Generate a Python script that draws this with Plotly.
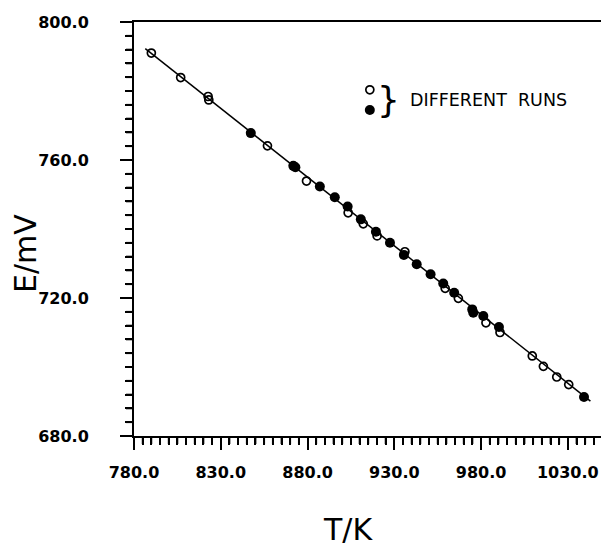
import plotly.graph_objects as go

# Open-circle run
open_T = [790.0, 806.9, 822.7, 823.1, 856.9, 879.4, 903.4, 912.1, 920.1, 936.1,
          959.3, 966.9, 982.8, 990.9, 1009.5, 1015.9, 1023.6, 1030.5]
open_E = [791.0, 783.9, 778.4, 777.4, 764.1, 753.9, 744.7, 741.5, 738.0, 733.4,
          722.8, 719.9, 712.8, 710.0, 703.2, 700.2, 697.1, 694.9]

# Filled-circle run
fill_T = [847.3, 871.8, 873.0, 887.1, 895.7, 903.1, 910.7, 919.4, 927.5, 935.5,
          942.9, 950.9, 958.2, 964.5, 974.9, 975.5, 981.3, 990.3, 1039.3]
fill_E = [767.8, 758.3, 757.9, 752.3, 749.2, 746.5, 742.8, 739.2, 736.0, 732.5,
          729.8, 726.9, 724.2, 721.5, 716.7, 715.7, 714.8, 711.6, 691.3]

# Fitted straight line (end points)
line_T = [786.5, 1043.0]
line_E = [792.3, 690.1]

x_ticks = [780, 830, 880, 930, 980, 1030]
y_ticks = [680, 720, 760, 800]
x_minor = [v for v in range(780, 1050, 5) if v not in x_ticks]
y_minor = [v for v in range(680, 801, 4) if v not in y_ticks]

legend_T = [915.9, 915.9]
legend_E = [780.35, 774.5]
legend_text = "DIFFERENT  RUNS"

W, H = 601, 546
L, T, B = 134, 22, 110
R = 0
X_RANGE = [780, 1049.1]
Y_RANGE = [680, 800]

fig = go.Figure()
fig.add_trace(go.Scatter(x=line_T, y=line_E, mode="lines",
                         line=dict(color="black", width=1.5), hoverinfo="skip"))
fig.add_trace(go.Scatter(x=open_T, y=open_E, mode="markers",
                         marker=dict(symbol="circle-open", size=8, color="black",
                                     line=dict(color="black", width=1.7))))
fig.add_trace(go.Scatter(x=fill_T, y=fill_E, mode="markers",
                         marker=dict(symbol="circle", size=10, color="black")))
# legend symbols
fig.add_trace(go.Scatter(x=legend_T[:1], y=legend_E[:1], mode="markers",
                         marker=dict(symbol="circle-open", size=8, color="black",
                                     line=dict(color="black", width=1.7))))
fig.add_trace(go.Scatter(x=legend_T[1:], y=legend_E[1:], mode="markers",
                         marker=dict(symbol="circle", size=10, color="black")))

tickfont = dict(family="DejaVu Sans", size=16, color="black", weight="bold")

fig.update_layout(
    xaxis=dict(
        range=X_RANGE, tickmode="array", tickvals=x_ticks,
        ticktext=[f"{v:.1f}" for v in x_ticks],
        showgrid=False, zeroline=False, showline=True, linecolor="black", linewidth=2,
        mirror=True, ticks="outside", ticklen=12, tickwidth=2, tickcolor="black",
        tickfont=tickfont, ticklabelstandoff=9,
        minor=dict(tickmode="array", tickvals=x_minor, ticks="outside", ticklen=7,
                   tickwidth=1.8, tickcolor="black", showgrid=False),
    ),
    yaxis=dict(
        range=Y_RANGE, tickmode="array", tickvals=y_ticks,
        ticktext=[f"{v:.1f}" for v in y_ticks],
        showgrid=False, zeroline=False, showline=True, linecolor="black", linewidth=2,
        mirror=False, ticks="outside", ticklen=12, tickwidth=2, tickcolor="black",
        tickfont=tickfont, ticklabelstandoff=28,
        minor=dict(tickmode="array", tickvals=y_minor, ticks="outside", ticklen=7,
                   tickwidth=1.8, tickcolor="black", showgrid=False),
    ),
)

# minor ticks also drawn as short pixel-length lines anchored on the axes
for v in x_minor:
    fig.add_shape(type="line", xref="x", yref="paper", ysizemode="pixel", yanchor=0,
                  x0=v, x1=v, y0=-1, y1=-8, line=dict(color="black", width=1.8),
                  layer="above")
for v in y_minor:
    fig.add_shape(type="line", xref="paper", yref="y", xsizemode="pixel", xanchor=0,
                  x0=-1, x1=-8, y0=v, y1=v, line=dict(color="black", width=1.8),
                  layer="above")

pw = W - L - R
ph = H - T - B

def px_to_paper(x, y):
    return (x - L) / pw, (H - B - y) / ph

ax, ay = px_to_paper(348, 529)
ex, ey = px_to_paper(25, 254)
bx, by = px_to_paper(388, 100)
tx, ty = px_to_paper(408, 100)

fig.add_annotation(x=ax, y=ay, xref="paper", yref="paper", text="T/K", showarrow=False,
                   font=dict(family="DejaVu Sans", size=30, color="black"),
                   xanchor="center", yanchor="middle", borderpad=0)
fig.add_annotation(x=ex, y=ey, xref="paper", yref="paper", text="E/mV", showarrow=False,
                   textangle=-90,
                   font=dict(family="DejaVu Sans", size=30, color="black"),
                   xanchor="center", yanchor="middle")
fig.add_annotation(x=bx, y=by, xref="paper", yref="paper", text="}", showarrow=False,
                   font=dict(family="DejaVu Sans", size=36, color="black"),
                   xanchor="center", yanchor="middle")
fig.add_annotation(x=tx, y=ty, xref="paper", yref="paper", text=legend_text, showarrow=False,
                   font=dict(family="DejaVu Sans", size=17.5, color="black"),
                   xanchor="left", yanchor="middle")

fig.update_layout(
    width=W, height=H, showlegend=False,
    margin=dict(l=L, r=R, t=T, b=B, pad=0),
    plot_bgcolor="white", paper_bgcolor="white",
)

fig.write_html("out.html", config={"displayModeBar": False},
               post_script="document.body.style.margin='0';document.body.style.overflow='hidden';")
